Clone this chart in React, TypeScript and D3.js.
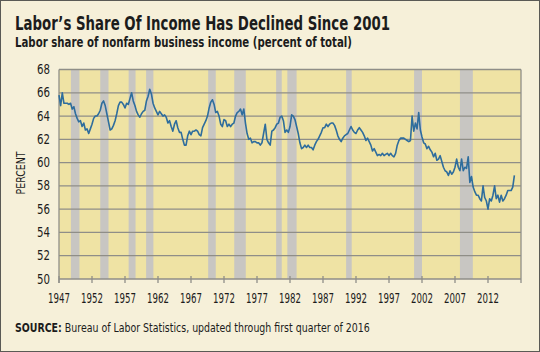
import React, { useEffect, useRef } from 'react';
import * as d3 from 'd3';

const START_YEAR = 1947;

// quarterly, 1947Q1 .. 2016Q1
const laborShare = [
  65.8, 64.9, 66.0, 65.1, 65.1, 65.1, 65.0, 65.1, 64.6, 64.8, 64.2, 63.8,
  63.5, 63.6, 63.1, 63.4, 62.8, 62.9, 62.5, 62.9, 63.3, 63.8, 64.0, 64.0,
  64.2, 64.5, 65.1, 65.3, 64.9, 64.2, 63.5, 62.8, 62.9, 63.2, 63.6, 64.2,
  64.9, 65.2, 65.2, 65.0, 64.7, 65.1, 65.0, 65.5, 66.0, 65.3, 64.9, 64.4,
  64.1, 63.9, 64.2, 64.4, 64.5, 65.3, 65.7, 66.3, 65.9, 65.1, 64.7, 64.4,
  64.1, 64.4, 64.2, 64.0, 64.1, 63.9, 63.4, 63.6, 63.1, 62.7, 63.3, 63.6,
  63.0, 62.6, 62.6, 62.0, 61.5, 61.5, 62.3, 62.7, 62.4, 62.7, 62.7, 62.8,
  62.7, 62.4, 62.3, 63.0, 63.3, 63.6, 64.0, 64.7, 65.2, 65.4, 65.0, 64.3,
  64.4, 64.0, 63.3, 63.1, 63.7, 63.6, 63.1, 63.3, 63.1, 63.3, 63.4, 64.0,
  64.3, 64.4, 64.6, 64.1, 64.6, 63.4, 62.5, 62.0, 62.1, 61.7, 61.8, 61.8,
  61.7, 61.7, 61.5, 61.7, 62.5, 63.3, 62.0, 61.7, 61.5, 62.7, 62.8, 63.0,
  63.3, 63.4, 63.9, 64.0, 63.6, 62.6, 62.8, 62.6, 63.1, 64.1, 64.0, 63.7,
  63.1, 62.5, 61.7, 61.2, 61.3, 61.5, 61.3, 61.5, 61.3, 61.3, 61.1, 61.5,
  61.8, 62.0, 62.3, 62.6, 63.0, 63.0, 63.3, 63.1, 63.3, 63.4, 63.4, 63.2,
  62.8, 62.3, 62.0, 61.8, 62.1, 62.3, 62.4, 62.5, 62.8, 63.1, 62.8, 62.6,
  62.5, 62.8, 63.0, 62.8, 62.6, 62.3, 61.9, 62.1, 61.8, 61.5, 61.0, 61.2,
  60.9, 60.6, 60.7, 60.6, 60.8, 60.6, 60.7, 60.8, 60.6, 60.8, 60.6, 60.5,
  60.8, 61.5, 61.9, 62.1, 62.1, 62.1, 62.0, 61.9, 61.8, 61.9, 64.0, 62.7,
  63.4, 62.9, 64.3, 62.8, 62.2, 61.7, 61.6, 61.2, 61.4, 61.1, 60.9, 60.5,
  60.8, 60.2, 60.3, 60.6, 60.1, 59.6, 59.3, 59.2, 58.9, 59.3, 59.0, 59.2,
  59.6, 60.3, 59.6, 59.3, 60.3, 59.3, 59.6, 59.5, 60.5, 58.3, 58.8, 57.9,
  57.5, 57.2, 57.2, 56.9, 56.7, 58.0, 57.0, 56.7, 56.0, 56.9, 56.7, 57.2,
  58.0, 56.9, 57.2, 56.6, 57.2, 56.7, 56.9, 57.2, 57.6, 57.6, 57.6, 57.9,
  58.9,
];

// recession shading, start/end as fractional years
const recessions: [number, number][] = [
  [1948.8, 1950.1], [1953.25, 1954.5], [1957.55, 1958.6], [1960.2, 1961.3],
  [1969.6, 1970.75], [1973.55, 1975.3], [1979.9, 1980.75], [1981.6, 1983.0],
  [1990.5, 1991.35], [2000.8, 2002.0], [2007.75, 2009.7],
];

const yTicks = [50, 52, 54, 56, 58, 60, 62, 64, 66, 68];
const xTicks = [1947, 1952, 1957, 1962, 1967, 1972, 1977, 1982, 1987, 1992, 1997, 2002, 2007, 2012];

const FONT = "'Liberation Sans Narrow', 'DejaVu Sans Condensed', 'Open Sans', sans-serif";
const INK = '#1c1c1c';

export default function App() {
  const W = 540;
  const H = 352;
  const left = 59, right = 521, top = 69.5, bottom = 279;
  const sourceRef = useRef<SVGTextElement>(null);

  const x = d3.scaleLinear().domain([1947, 2017]).range([left, right]);
  const y = d3.scaleLinear().domain([50, 68]).range([bottom, top]);

  const line = d3
    .line<number>()
    .x((d, i) => x(START_YEAR + i / 4))
    .y((d) => y(d));

  // squeeze the source line to the reference width (355px)
  useEffect(() => {
    const el = sourceRef.current;
    if (!el) return;
    const w = el.getComputedTextLength();
    if (w > 0) el.setAttribute('transform', `translate(15,332) scale(${355 / w},1)`);
  }, []);

  return (
    <svg width={W} height={H} style={{ position: 'absolute', left: 0, top: 0 }}>
      <rect x={0.5} y={0.5} width={W - 1} height={H - 1} fill="#f6f0d9" stroke="#5a5a55" />

      <text x={15} y={30} fontFamily={FONT} fontWeight="bold" fontSize={20} fill={INK}
        textLength={375} lengthAdjust="spacingAndGlyphs">
        Labor’s Share Of Income Has Declined Since 2001
      </text>
      <text x={15} y={47} fontFamily={FONT} fontWeight="bold" fontSize={14.5} fill={INK}
        textLength={337} lengthAdjust="spacingAndGlyphs">
        Labor share of nonfarm business income (percent of total)
      </text>

      {/* plot area */}
      <rect x={left} y={top} width={right - left} height={bottom - top} fill="#efe3a4" />
      {recessions.map(([a, b], i) => (
        <rect key={i} x={x(a)} y={top} width={x(b) - x(a)} height={bottom - top} fill="#c8c6c2" />
      ))}
      {yTicks.map((t) => (
        <line key={t} x1={left} x2={right} y1={y(t)} y2={y(t)} stroke="#8f8e88" strokeWidth={1.3} />
      ))}
      <line x1={left} x2={left} y1={top} y2={bottom + 4} stroke="#8f8e88" strokeWidth={1.3} />
      <line x1={right} x2={right} y1={top} y2={bottom + 4} stroke="#8f8e88" strokeWidth={1.3} />
      {xTicks.map((t) => (
        <line key={t} x1={x(t)} x2={x(t)} y1={bottom - 3} y2={bottom + 4} stroke="#8f8e88" strokeWidth={1.3} />
      ))}

      <path d={line(laborShare) ?? ''} fill="none" stroke="#2e6d9d" strokeWidth={1.6} strokeLinejoin="round" />

      {yTicks.map((t) => (
        <text key={t} x={50} y={y(t) + 4.5} textAnchor="end" fontFamily={FONT} fontSize={13.5} fill={INK}
          textLength={13} lengthAdjust="spacingAndGlyphs">
          {t}
        </text>
      ))}
      {xTicks.map((t) => (
        <text key={t} x={x(t) - 11} y={303} fontFamily={FONT} fontSize={14} fill={INK}
          textLength={22} lengthAdjust="spacingAndGlyphs">
          {t}
        </text>
      ))}
      <text transform="translate(25,173) rotate(-90)" textAnchor="middle" fontFamily={FONT} fontSize={12.5}
        fill={INK} textLength={43} lengthAdjust="spacingAndGlyphs">
        PERCENT
      </text>

      <text ref={sourceRef} transform="translate(15,332)" fontFamily={FONT} fontSize={13} fill={INK}>
        <tspan fontWeight="bold">SOURCE:</tspan> Bureau of Labor Statistics, updated through first quarter of 2016
      </text>
    </svg>
  );
}
